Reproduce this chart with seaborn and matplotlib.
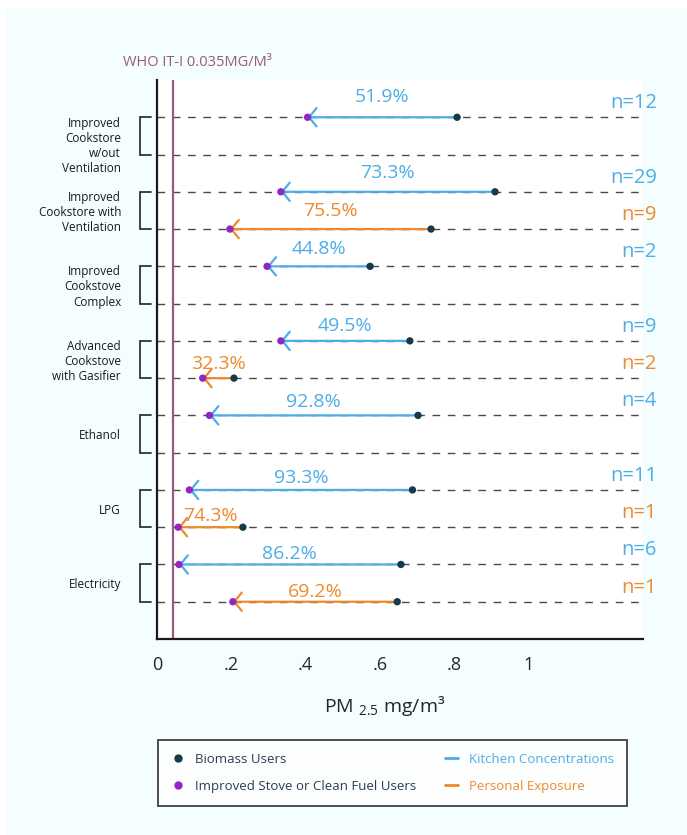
import numpy as np
import pandas as pd
import matplotlib.pyplot as plt
from matplotlib.lines import Line2D
from matplotlib.patches import Rectangle
import seaborn as sns

sns.set_style("white")
plt.rcParams['font.family'] = ['Open Sans', 'DejaVu Sans']

# Datos (PM2.5 en mg/m3)
categorias = ['Improved\nCookstore\nw/out\nVentilation',
              'Improved\nCookstore with\nVentilation',
              'Improved\nCookstove\nComplex',
              'Advanced\nCookstove\nwith Gasifier',
              'Ethanol', 'LPG', 'Electricity']
cocina_biomasa = [0.807, 0.909, 0.573, 0.680, 0.702, 0.687, 0.656]
cocina_mejorada = [0.405, 0.333, 0.296, 0.333, 0.141, 0.087, 0.059]
cocina_pct = ['51.9%', '73.3%', '44.8%', '49.5%', '92.8%', '93.3%', '86.2%']
cocina_n = [12, 29, 2, 9, 4, 11, 6]
personal_biomasa = [None, 0.737, None, 0.207, None, 0.231, 0.646]
personal_mejorada = [None, 0.196, None, 0.123, None, 0.057, 0.204]
personal_pct = [None, '75.5%', None, '32.3%', None, '74.3%', '69.2%']
personal_n = [None, 9, None, 2, None, 1, 1]
who_valor = 0.042
xticks = [0, 0.2, 0.4, 0.6, 0.8, 1]
xtick_labels = ['0', '.2', '.4', '.6', '.8', '1']

AZUL = '#4dade6'
NARANJA = '#ef8a2c'
MORADO = '#9425c4'
OSCURO = '#17394a'
WHO_COLOR = '#9b5a7c'
FONDO = '#f4fefe'

fig = plt.figure(figsize=(6.87, 8.35), dpi=100)
fig.patch.set_facecolor('white')
fig.add_artist(Rectangle((6 / 687, 0), 1, 1 - 8 / 835, transform=fig.transFigure,
                         facecolor=FONDO, edgecolor='none', zorder=-10))
ax = fig.add_axes([157 / 687, 1 - 639 / 835, 486 / 687, 559 / 835])
ax.set_facecolor('white')

# Filas: cocina en 1,3,5..., exposición personal en 2,4,6...
filas = []
for i in range(len(categorias)):
    filas.append(('k', i, 2 * i + 1))
    filas.append(('p', i, 2 * i + 2))

for _, _, r in filas:
    ax.axhline(r, color='#4a4a4a', lw=1.0, ls=(0, (5.5, 5.5)), zorder=1)

ax.axvline(who_valor, color=WHO_COLOR, lw=1.6, zorder=2)

puntos = []
for tipo, i, r in filas:
    if tipo == 'k':
        xb, xm, pct, n, c = cocina_biomasa[i], cocina_mejorada[i], cocina_pct[i], cocina_n[i], AZUL
    else:
        xb, xm, pct, n, c = personal_biomasa[i], personal_mejorada[i], personal_pct[i], personal_n[i], NARANJA
    if xb is None:
        continue
    ax.annotate('', xy=(xm, r), xytext=(xb, r),
                arrowprops=dict(arrowstyle='->,head_length=0.45,head_width=0.55',
                                color=c, lw=1.6, shrinkA=0, shrinkB=0,
                                mutation_scale=12), zorder=3)
    # las etiquetas de porcentaje se acercan a la línea hacia abajo del gráfico
    y_pct = r - 0.54 + 0.0215 * (r - 1)
    ax.text((xb + xm) / 2, y_pct, pct, ha='center', va='center', color=c, fontsize=14)
    ax.annotate(f'n={n}', xy=(1.029, r), xycoords=ax.get_yaxis_transform(),
                xytext=(0, 3), textcoords='offset points',
                ha='right', va='bottom', color=c, fontsize=14.5, annotation_clip=False)
    puntos.append({'x': xb, 'fila': r, 'grupo': 'Biomass Users'})
    puntos.append({'x': xm, 'fila': r, 'grupo': 'Improved Stove or Clean Fuel Users'})

df = pd.DataFrame(puntos)
sns.scatterplot(data=df, x='x', y='fila', hue='grupo',
                palette={'Biomass Users': OSCURO, 'Improved Stove or Clean Fuel Users': MORADO},
                s=28, edgecolor='none', legend=False, zorder=4, ax=ax)

# Etiquetas de categoría con corchetes
trans = ax.get_yaxis_transform()
for i, cat in enumerate(categorias):
    r1, r2 = 2 * i + 1, 2 * i + 2
    ax.plot([-0.013, -0.035, -0.035, -0.013], [r1, r1, r2, r2], color='#333333',
            lw=1.3, transform=trans, clip_on=False, solid_joinstyle='miter')
    n_lineas = cat.count('\n') + 1
    desplazamiento = 0.05 + 0.22 * max(0, n_lineas - 3)
    ax.text(-0.074, (r1 + r2) / 2 + desplazamiento, cat, transform=trans, ha='right',
            va='center', multialignment='right', fontsize=8.5, linespacing=1.22,
            color='#1a1a1a')

ax.set_xlim(0, 1.307)
ax.set_ylim(15, 0)
ax.set_yticks([])
ax.set_xticks(xticks)
ax.set_xticklabels(xtick_labels, fontsize=13)
ax.tick_params(axis='x', direction='out', length=5, width=1.5, color='black', pad=7)
ax.set_xlabel('PM $_{\\mathregular{2.5}}$ mg/m³', fontsize=14)
ax.xaxis.set_label_coords(0.469, -0.098)
ax.set_ylabel('')
sns.despine(ax=ax)
for lado in ['left', 'bottom']:
    ax.spines[lado].set_linewidth(1.6)
    ax.spines[lado].set_color('#1a1a1a')

fig.text(123 / 687, 1 - 62 / 835, 'WHO IT-I 0.035MG/M³', color=WHO_COLOR,
         fontsize=10.5, ha='left', va='center')

# Leyenda
handles = [
    Line2D([], [], marker='o', ls='none', color=OSCURO, markersize=5),
    Line2D([], [], marker='o', ls='none', color=MORADO, markersize=5),
    Line2D([], [], color=AZUL, lw=2),
    Line2D([], [], color=NARANJA, lw=2),
]
etiquetas = ['Biomass Users', 'Improved Stove or Clean Fuel Users',
             'Kitchen Concentrations', 'Personal Exposure']
leg = fig.legend(handles, etiquetas, ncol=2, loc='lower left',
                 bbox_to_anchor=(158 / 687, 1 - 806 / 835, 469 / 687, 67 / 835),
                 mode='expand', fontsize=9.5, frameon=True, fancybox=False,
                 labelcolor=['#2b3e50', '#2b3e50', AZUL, NARANJA],
                 handlelength=1.0, handletextpad=0.8, labelspacing=1.05,
                 borderpad=1.0, borderaxespad=0, columnspacing=2.0)
leg.get_frame().set_edgecolor('#222222')
leg.get_frame().set_linewidth(1.4)

fig.savefig('out.png', dpi=100, facecolor=fig.get_facecolor())
